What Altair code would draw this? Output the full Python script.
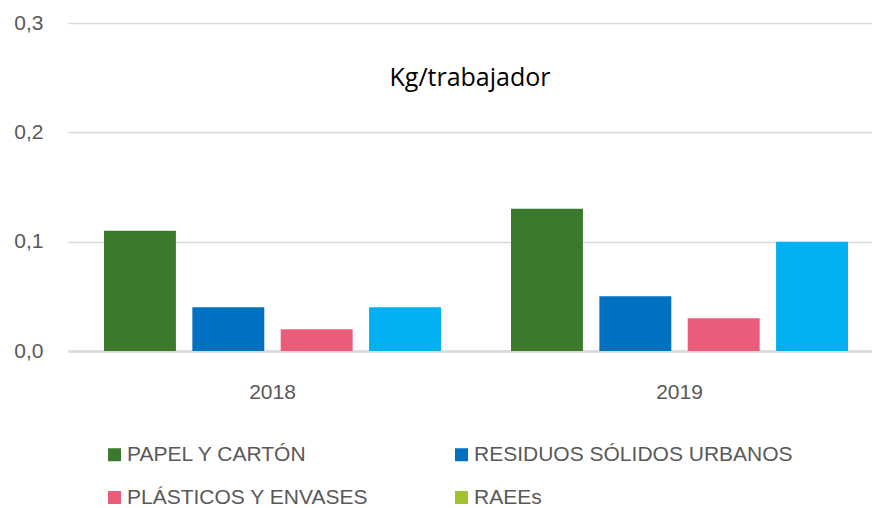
import altair as alt
import pandas as pd

years = ["2018", "2019"]
series = ["PAPEL Y CARTÓN", "RESIDUOS SÓLIDOS URBANOS", "PLÁSTICOS Y ENVASES", "RAEEs"]
values_2018 = [0.11, 0.04, 0.02, 0.04]
values_2019 = [0.13, 0.05, 0.03, 0.10]
bar_colors = ["#3b7a2c", "#0070c0", "#eb5b7a", "#00b0f0"]
# legend is laid out column by column: order so rows read as in the reference
legend_order = ["PAPEL Y CARTÓN", "PLÁSTICOS Y ENVASES", "RESIDUOS SÓLIDOS URBANOS", "RAEEs"]
legend_colors = ["#3b7a2c", "#eb5b7a", "#0070c0", "#a2c12f"]

rows = []
for yr, vals in zip(years, [values_2018, values_2019]):
    for s, v in zip(series, vals):
        rows.append({"year": yr, "serie": s, "valor": v})
df = pd.DataFrame(rows)

x_axis = alt.Axis(labelAngle=0, ticks=False, labelPadding=30,
                  labelFontSize=21, labelColor="#595959",
                  domain=True, domainColor="#d9d9d9", domainWidth=2.5,
                  labelFont="Liberation Sans", grid=False)
y_axis = alt.Axis(values=[0, 0.1, 0.2, 0.3], domain=False, ticks=False,
                  labelPadding=25, labelFontSize=21, labelColor="#595959",
                  labelFont="Liberation Sans",
                  gridColor="#d9d9d9", gridWidth=1.5,
                  labelExpr="replace(format(datum.value, '.1f'), '.', ',')")
x_scale = alt.Scale(paddingInner=0.172, paddingOuter=0.0737, align=0.6)
y_scale = alt.Scale(domain=[0, 0.3], nice=False)
xoff_enc = alt.XOffset("serie:N", sort=series,
                       scale=alt.Scale(paddingInner=0.186, paddingOuter=0))

bars = alt.Chart(df).mark_bar().encode(
    x=alt.X("year:N", title=None, sort=years, scale=x_scale, axis=x_axis),
    xOffset=xoff_enc,
    y=alt.Y("valor:Q", title=None, scale=y_scale, axis=y_axis),
    color=alt.Color("serie:N", sort=series,
                    scale=alt.Scale(domain=series, range=bar_colors), legend=None),
)

legend_layer = alt.Chart(df).transform_calculate(zero="0").mark_bar().encode(
    x=alt.X("year:N", title=None, sort=years, scale=x_scale, axis=x_axis),
    xOffset=xoff_enc,
    y=alt.Y("zero:Q", title=None, scale=y_scale, axis=y_axis),
    color=alt.Color("serie:N", sort=legend_order,
                    scale=alt.Scale(domain=legend_order, range=legend_colors),
                    legend=alt.Legend(title=None, orient="none", legendX=36, legendY=421,
                                      columns=2, columnPadding=82, rowPadding=21,
                                      symbolType="square", symbolSize=169,
                                      symbolStrokeWidth=0, labelOffset=2,
                                      labelFontSize=21, labelColor="#595959",
                                      labelFont="Liberation Sans", labelLimit=0)),
)

chart = alt.layer(bars, legend_layer).resolve_scale(color="independent").properties(
    width=804, height=328,
    view=alt.ViewBackground(stroke="transparent", strokeWidth=0),
    title=alt.TitleParams("Kg/trabajador", font="Open Sans", fontSize=25,
                          fontWeight="normal", color="black", anchor="middle",
                          frame="group", dy=83),
    autosize=alt.AutoSizeParams(type="none"),
    padding={"left": 68, "top": 23, "right": 0, "bottom": 157},
).configure_view(stroke="transparent", strokeWidth=0
).configure_axis(domain=False
).configure_axisY(domain=False, ticks=False
).configure_axisX(grid=False, domain=True
).configure(background="white")

chart.save("out.html", embed_options={"renderer": "svg", "actions": False})
